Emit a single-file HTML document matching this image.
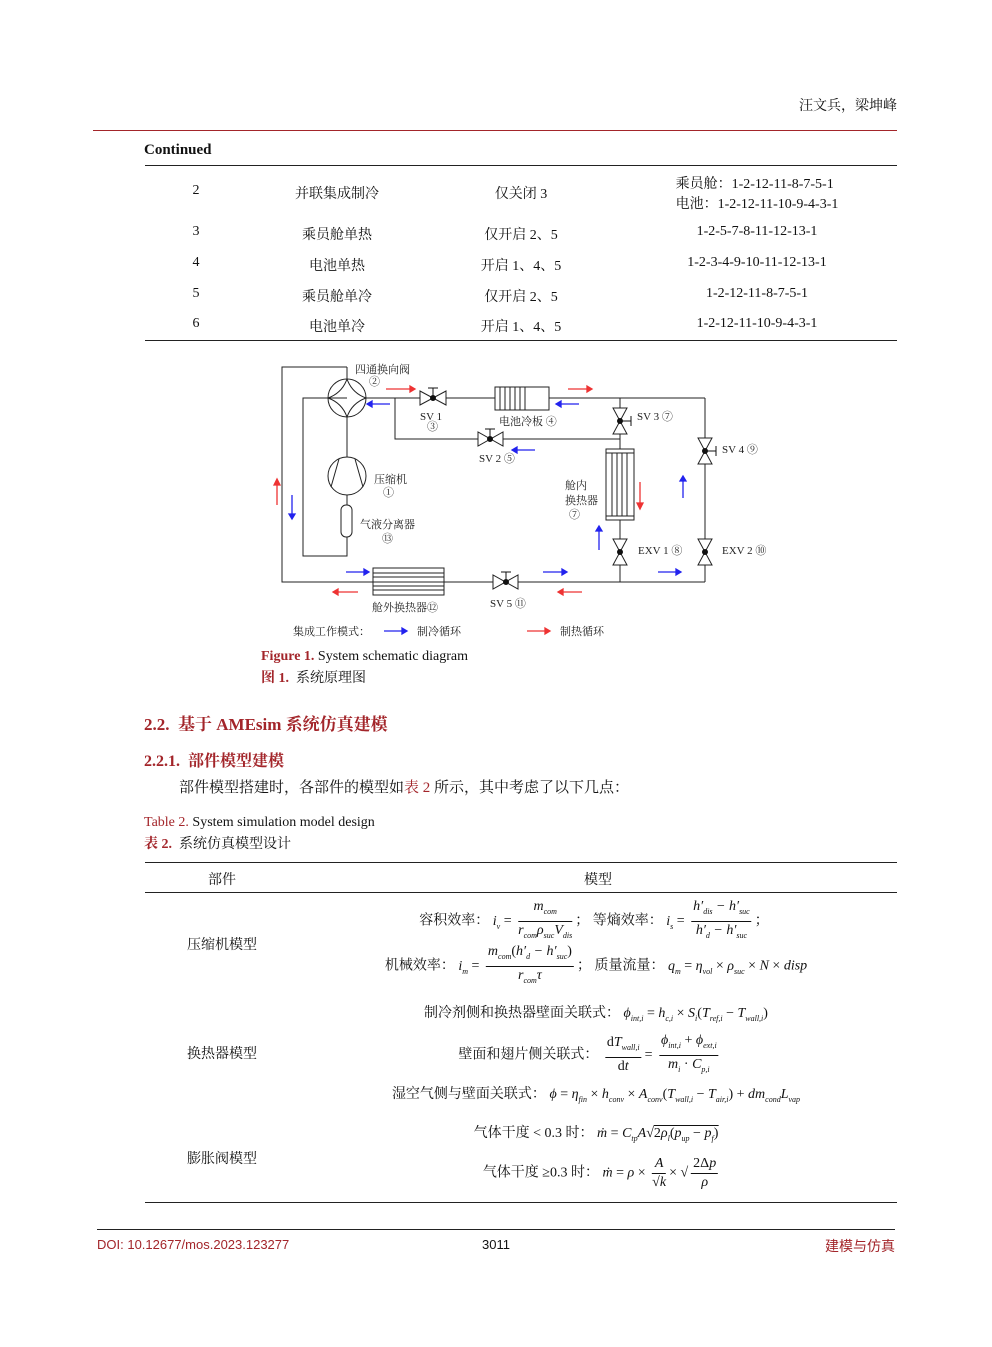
<!DOCTYPE html>
<html><head><meta charset="utf-8"><style>
body{margin:0;background:#fff;}
#p{position:relative;width:992px;height:1347px;overflow:hidden;font-family:"Liberation Serif","Noto Serif CJK SC",serif;color:#111;}
.a{position:absolute;white-space:nowrap;}
.c{position:absolute;white-space:nowrap;transform:translateX(-50%);}
.s{font-family:"Liberation Serif","Noto Serif CJK SC",serif;font-size:14px;}
.red{color:#a3252a;}
.hl{position:absolute;height:1px;background:#222;}
.f{display:inline-block;vertical-align:middle;text-align:center;margin:0 3px;}
.f .n{display:block;border-bottom:1px solid #111;padding:0 2px;line-height:18px;}
.f .d{display:block;line-height:18px;}
i{font-family:"Liberation Serif",serif;}
sub{font-size:8px;font-style:italic;}
.m{font-size:14px;font-family:"Liberation Serif","Noto Serif CJK SC",serif;}
</style></head><body><div id="p">
<div class="a s" style="right:95px;top:95px;">汪文兵，梁坤峰</div>
<div class="hl" style="left:93px;top:130px;width:804px;background:#a3252a;"></div>
<div class="a" style="left:144px;top:142px;font-weight:bold;font-size:15px;">Continued</div>
<div class="hl" style="left:145px;top:165px;width:752px;"></div>
<div class="c s" style="left:196px;top:183px;">2</div>
<div class="c s" style="left:337px;top:183px;">并联集成制冷</div>
<div class="c s" style="left:521px;top:183px;">仅关闭 3</div>
<div class="c s" style="left:757px;top:173px;text-align:left;">乘员舱：1-2-12-11-8-7-5-1<br>电池：1-2-12-11-10-9-4-3-1</div>
<div class="c s" style="left:196px;top:224px;">3</div><div class="c s" style="left:337px;top:224px;">乘员舱单热</div><div class="c s" style="left:521px;top:224px;">仅开启 2、5</div><div class="c s" style="left:757px;top:224px;">1-2-5-7-8-11-12-13-1</div>
<div class="c s" style="left:196px;top:255px;">4</div><div class="c s" style="left:337px;top:255px;">电池单热</div><div class="c s" style="left:521px;top:255px;">开启 1、4、5</div><div class="c s" style="left:757px;top:255px;">1-2-3-4-9-10-11-12-13-1</div>
<div class="c s" style="left:196px;top:286px;">5</div><div class="c s" style="left:337px;top:286px;">乘员舱单冷</div><div class="c s" style="left:521px;top:286px;">仅开启 2、5</div><div class="c s" style="left:757px;top:286px;">1-2-12-11-8-7-5-1</div>
<div class="c s" style="left:196px;top:316px;">6</div><div class="c s" style="left:337px;top:316px;">电池单冷</div><div class="c s" style="left:521px;top:316px;">开启 1、4、5</div><div class="c s" style="left:757px;top:316px;">1-2-12-11-10-9-4-3-1</div>
<div class="hl" style="left:145px;top:340px;width:752px;"></div>

<svg class="a" style="left:0;top:0" width="992" height="700" viewBox="0 0 992 700">
<g stroke="#222" stroke-width="1" fill="none">
<polyline points="347,367 282,367 282,582 373,582"/>
<polyline points="347,398 303,398 303,556 347,556 347,537"/>
<line x1="347" y1="379" x2="347" y2="367"/>
<line x1="347" y1="417" x2="347" y2="457"/>
<line x1="347" y1="495" x2="347" y2="505"/>
<circle cx="347" cy="398" r="19"/>
<path d="M347,379 Q352,393 366,398 Q352,403 347,417 Q342,403 328,398 Q342,393 347,379Z"/>
<circle cx="347" cy="476" r="19"/>
<line x1="339" y1="459" x2="331" y2="487"/><line x1="355" y1="459" x2="363" y2="487"/>
<rect x="341" y="505" width="11" height="32" rx="5"/>
<line x1="366" y1="398" x2="495" y2="398"/>
<line x1="549" y1="398" x2="705" y2="398"/>
<rect x="495" y="387" width="54" height="23"/>
<line x1="500" y1="387" x2="500" y2="410"/><line x1="505" y1="387" x2="505" y2="410"/><line x1="510" y1="387" x2="510" y2="410"/><line x1="515" y1="387" x2="515" y2="410"/><line x1="520" y1="387" x2="520" y2="410"/><line x1="525" y1="387" x2="525" y2="410"/>
<polyline points="395,398 395,439 620,439"/>
<line x1="620" y1="398" x2="620" y2="449"/>
<rect x="606" y="449" width="28" height="71"/>
<line x1="606" y1="453" x2="634" y2="453"/><line x1="606" y1="516" x2="634" y2="516"/>
<line x1="612" y1="453" x2="612" y2="516"/><line x1="617" y1="453" x2="617" y2="516"/><line x1="622" y1="453" x2="622" y2="516"/><line x1="627" y1="453" x2="627" y2="516"/>
<line x1="620" y1="520" x2="620" y2="582"/>
<line x1="705" y1="398" x2="705" y2="582"/>
<line x1="444" y1="582" x2="705" y2="582"/>
<rect x="373" y="568" width="71" height="27"/>
<line x1="373" y1="573" x2="444" y2="573"/><line x1="373" y1="577" x2="444" y2="577"/><line x1="373" y1="582" x2="444" y2="582"/><line x1="373" y1="586" x2="444" y2="586"/><line x1="373" y1="590" x2="444" y2="590"/>
</g>
<g fill="#fff" stroke="#222" stroke-width="1">
<polygon points="420,391 420,405 446,391 446,405"/>
<polygon points="478,432 478,446 503,432 503,446"/>
<polygon points="493,575 493,589 518,575 518,589"/>
<polygon points="613,408 627,408 613,434 627,434"/>
<polygon points="698,438 712,438 698,464 712,464"/>
<polygon points="613,539 627,539 613,565 627,565"/>
<polygon points="698,539 712,539 698,565 712,565"/>
</g>
<g fill="#111" stroke="#111">
<circle cx="433" cy="398" r="2.5"/><line x1="433" y1="398" x2="433" y2="388"/><line x1="428" y1="388" x2="438" y2="388"/>
<circle cx="490" cy="439" r="2.5"/><line x1="490" y1="439" x2="490" y2="429"/><line x1="485" y1="429" x2="495" y2="429"/>
<circle cx="506" cy="582" r="2.5"/><line x1="506" y1="582" x2="506" y2="572"/><line x1="501" y1="572" x2="511" y2="572"/>
<circle cx="620" cy="421" r="2.5"/><line x1="620" y1="421" x2="631" y2="421"/><line x1="631" y1="416" x2="631" y2="426"/>
<circle cx="705" cy="451" r="2.5"/><line x1="705" y1="451" x2="716" y2="451"/><line x1="716" y1="446" x2="716" y2="456"/>
<circle cx="620" cy="552" r="2.5"/><circle cx="705" cy="552" r="2.5"/>
</g>
<g stroke-width="1.3">
<g stroke="#e33" fill="#e33">
<line x1="386" y1="389" x2="410" y2="389"/><polygon points="410,386 415,389 410,392"/>
<line x1="568" y1="389" x2="587" y2="389"/><polygon points="587,386 592,389 587,392"/>
<line x1="358" y1="592" x2="338" y2="592"/><polygon points="338,589 333,592 338,595"/>
<line x1="582" y1="592" x2="563" y2="592"/><polygon points="563,589 558,592 563,595"/>
<line x1="277" y1="505" x2="277" y2="485"/><polygon points="274,485 277,479 280,485"/>
<line x1="640" y1="482" x2="640" y2="503"/><polygon points="637,503 640,509 643,503"/>
<line x1="527" y1="631" x2="545" y2="631"/><polygon points="545,628 550,631 545,634"/>
</g>
<g stroke="#22e" fill="#22e">
<line x1="390" y1="404" x2="372" y2="404"/><polygon points="372,401 367,404 372,407"/>
<line x1="579" y1="404" x2="561" y2="404"/><polygon points="561,401 556,404 561,407"/>
<line x1="535" y1="450" x2="517" y2="450"/><polygon points="517,447 512,450 517,453"/>
<line x1="292" y1="495" x2="292" y2="514"/><polygon points="289,514 292,519 295,514"/>
<line x1="683" y1="498" x2="683" y2="481"/><polygon points="680,481 683,476 686,481"/>
<line x1="599" y1="550" x2="599" y2="531"/><polygon points="596,531 599,526 602,531"/>
<line x1="346" y1="572" x2="364" y2="572"/><polygon points="364,569 369,572 364,575"/>
<line x1="543" y1="572" x2="562" y2="572"/><polygon points="562,569 567,572 562,575"/>
<line x1="658" y1="572" x2="676" y2="572"/><polygon points="676,569 681,572 676,575"/>
<line x1="384" y1="631" x2="402" y2="631"/><polygon points="402,628 407,631 402,634"/>
</g></g>
<g font-family="Liberation Serif,Noto Serif CJK SC,serif" font-size="11" fill="#222">
<text x="355" y="373">四通换向阀</text><text x="369" y="385">②</text>
<text x="420" y="420">SV 1</text><text x="427" y="430">③</text>
<text x="499" y="425">电池冷板 ④</text>
<text x="479" y="462">SV 2 ⑤</text>
<text x="637" y="420">SV 3 ⑦</text>
<text x="722" y="453">SV 4 ⑨</text>
<text x="374" y="483">压缩机</text><text x="383" y="496">①</text>
<text x="565" y="489">舱内</text><text x="565" y="504">换热器</text><text x="569" y="518">⑦</text>
<text x="360" y="528">气液分离器</text><text x="382" y="542">⑬</text>
<text x="638" y="554">EXV 1 ⑧</text>
<text x="722" y="554">EXV 2 ⑩</text>
<text x="372" y="611">舱外换热器⑫</text>
<text x="490" y="607">SV 5 ⑪</text>
<text x="293" y="635">集成工作模式：</text><text x="417" y="635">制冷循环</text><text x="560" y="635">制热循环</text>
</g>
</svg>

<div class="a" style="left:261px;top:649px;font-size:14px;"><span class="red" style="font-weight:bold;">Figure 1.</span> System schematic diagram</div>
<div class="a" style="left:261px;top:667px;font-size:14px;"><span class="red" style="font-weight:bold;">图 1.</span>&nbsp; 系统原理图</div>
<div class="a red" style="left:144px;top:710px;font-size:17px;font-weight:bold;">2.2.&nbsp; 基于 AMEsim 系统仿真建模</div>
<div class="a red" style="left:144px;top:748px;font-size:16px;font-weight:bold;">2.2.1.&nbsp; 部件模型建模</div>
<div class="a" style="left:179px;top:776px;font-size:15px;">部件模型搭建时，各部件的模型如<span class="red">表 2</span> 所示，其中考虑了以下几点：</div>
<div class="a" style="left:144px;top:815px;font-size:14px;"><span class="red">Table 2.</span> System simulation model design</div>
<div class="a" style="left:144px;top:833px;font-size:14px;"><span class="red" style="font-weight:bold;">表 2.</span>&nbsp; 系统仿真模型设计</div>
<div class="hl" style="left:145px;top:862px;width:752px;"></div>
<div class="c s" style="left:222px;top:869px;">部件</div>
<div class="c s" style="left:598px;top:869px;">模型</div>
<div class="hl" style="left:145px;top:892px;width:752px;"></div>
<div class="c s" style="left:222px;top:934px;">压缩机模型</div>
<div class="c s" style="left:222px;top:1043px;">换热器模型</div>
<div class="c s" style="left:222px;top:1148px;">膨胀阀模型</div>

<div class="c m" style="left:594px;top:898px;">容积效率： <i>i<sub>v</sub></i> = <span class="f"><span class="n"><i>m<sub>com</sub></i></span><span class="d"><i>r<sub>com</sub>ρ<sub>suc</sub>V<sub>dis</sub></i></span></span>； 等熵效率： <i>i<sub>s</sub></i> = <span class="f"><span class="n"><i>h′<sub>dis</sub> − h′<sub>suc</sub></i></span><span class="d"><i>h′<sub>d</sub> − h′<sub>suc</sub></i></span></span>；</div>
<div class="c m" style="left:596px;top:943px;">机械效率： <i>i<sub>m</sub></i> = <span class="f"><span class="n"><i>m<sub>com</sub></i>(<i>h′<sub>d</sub> − h′<sub>suc</sub></i>)</span><span class="d"><i>r<sub>com</sub>τ</i></span></span>； 质量流量： <i>q<sub>m</sub></i> = <i>η<sub>vol</sub></i> × <i>ρ<sub>suc</sub></i> × <i>N</i> × <i>disp</i></div>
<div class="c m" style="left:596px;top:1002px;">制冷剂侧和换热器壁面关联式： <i>ϕ<sub>int,i</sub></i> = <i>h<sub>c,i</sub></i> × <i>S<sub>i</sub></i>(<i>T<sub>ref,i</sub></i> − <i>T<sub>wall,i</sub></i>)</div>
<div class="c m" style="left:590px;top:1032px;">壁面和翅片侧关联式： <span class="f"><span class="n">d<i>T<sub>wall,i</sub></i></span><span class="d">d<i>t</i></span></span>= <span class="f"><span class="n"><i>ϕ<sub>int,i</sub></i> + <i>ϕ<sub>ext,i</sub></i></span><span class="d"><i>m<sub>i</sub></i> · <i>C<sub>p,i</sub></i></span></span></div>
<div class="c m" style="left:596px;top:1083px;">湿空气侧与壁面关联式： <i>ϕ</i> = <i>η<sub>fin</sub></i> × <i>h<sub>conv</sub></i> × <i>A<sub>conv</sub></i>(<i>T<sub>wall,i</sub></i> − <i>T<sub>air,i</sub></i>) + <i>dm<sub>cond</sub>L<sub>vap</sub></i></div>
<div class="c m" style="left:596px;top:1122px;">气体干度 &lt; 0.3 时： <i>ṁ</i> = <i>C<sub>tp</sub>A</i>√<span style="border-top:1px solid #111;">2<i>ρ<sub>l</sub></i>(<i>p<sub>up</sub></i> − <i>p<sub>f</sub></i>)</span></div>
<div class="c m" style="left:602px;top:1155px;">气体干度 ≥0.3 时： <i>ṁ</i> = <i>ρ</i> × <span class="f"><span class="n"><i>A</i></span><span class="d">√<i>k</i></span></span>× √<span class="f"><span class="n">2Δ<i>p</i></span><span class="d"><i>ρ</i></span></span></div>
<div class="hl" style="left:145px;top:1202px;width:752px;"></div>

<div class="hl" style="left:97px;top:1229px;width:798px;"></div>
<div class="a red" style="left:97px;top:1237px;font-size:13px;font-family:'Liberation Sans',sans-serif;">DOI: 10.12677/mos.2023.123277</div>
<div class="c" style="left:496px;top:1237px;font-size:13px;font-family:'Liberation Sans',sans-serif;">3011</div>
<div class="a red" style="right:97px;top:1236px;font-size:14px;font-family:'Liberation Sans','Noto Sans CJK SC',sans-serif;">建模与仿真</div>
</div></body></html>
